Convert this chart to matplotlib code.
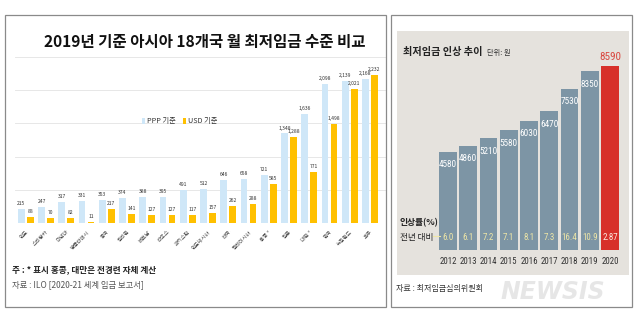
import matplotlib
matplotlib.use("Agg")
import matplotlib.pyplot as plt
from matplotlib.patches import Rectangle
from matplotlib import font_manager
import numpy as np

plt.rcParams['font.family'] = ['Noto Sans CJK KR', 'DejaVu Sans']
plt.rcParams['axes.unicode_minus'] = False

# ---- data: monthly minimum wage, 18 Asian countries (2019) ----
countries = ['인도', '스리랑카', '미얀마', '방글라데시', '중국', '필리핀', '베트남', '라오스',
             '파키스탄', '인도네시아', '태국', '말레이시아', '홍콩 *', '일본', '대만 *',
             '한국', '뉴질랜드', '호주']
ppp_values = [215, 247, 317, 331, 353, 374, 388, 395, 491, 512, 646, 658, 721,
              1348, 1636, 2098, 2139, 2168]
usd_values = [88, 70, 82, 11, 217, 141, 127, 127, 117, 157, 262, 288, 585,
              1288, 771, 1498, 2021, 2232]

# ---- data: Korean minimum wage (won/hour) ----
years = ['2012', '2013', '2014', '2015', '2016', '2017', '2018', '2019', '2020']
wages = [4580, 4860, 5210, 5580, 6030, 6470, 7530, 8350, 8590]
raise_rates = ['6.0', '6.1', '7.2', '7.1', '8.1', '7.3', '16.4', '10.9', '2.87']

W, H = 640, 323
fig = plt.figure(figsize=(W / 100, H / 100), dpi=100)
fig.patch.set_facecolor('white')

installed = {f.name for f in font_manager.fontManager.ttflist}
NARROW_NAME = next((n for n in ['Liberation Sans Narrow', 'DejaVu Sans Condensed', 'Roboto Condensed']
                    if n in installed), 'Liberation Sans')
NARROW = [NARROW_NAME, 'Noto Sans CJK KR']


def add_axes_px(x0, y0, x1, y1, **kw):
    return fig.add_axes([x0 / W, 1 - y1 / H, (x1 - x0) / W, (y1 - y0) / H], **kw)


def fig_text(px, py, s, **kw):
    return fig.text(px / W, 1 - py / H, s, **kw)


def fig_box(x0, y0, x1, y1, **kw):
    fig.patches.append(Rectangle((x0 / W, 1 - y1 / H), (x1 - x0) / W, (y1 - y0) / H,
                                 transform=fig.transFigure, **kw))


# panel frames
fig_box(5, 15, 386, 307, facecolor='none', edgecolor='#8a8a8a', lw=0.9, zorder=5)
fig_box(391, 15, 632, 307, facecolor='none', edgecolor='#8a8a8a', lw=0.9, zorder=5)

# ================= left panel =================
PPP_COLOR = '#cfe7f8'
USD_COLOR = '#ffc000'

fig_text(205, 42, '2019년 기준 아시아 18개국 월 최저임금 수준 비교', ha='center', va='center',
         fontsize=11.2, fontweight='bold', color='#111111')

axL = add_axes_px(15, 57, 386, 223)
x = np.arange(len(countries))
off, bw = 0.22, 0.34
axL.bar(x - off, ppp_values, width=bw, color=PPP_COLOR, zorder=2, label='PPP 기준')
axL.bar(x + off, usd_values, width=bw, color=USD_COLOR, zorder=2, label='USD 기준')
axL.set_xlim(-0.531, 17.79)
axL.set_ylim(0, 2500)
axL.set_yticks(np.arange(0, 2501, 500))
axL.yaxis.grid(True, color='#e7e7e7', lw=0.7, zorder=0)
axL.set_axisbelow(True)
axL.tick_params(axis='y', left=False, labelleft=False)
axL.tick_params(axis='x', bottom=False, pad=1)
axL.set_xticks(x)
axL.set_xticklabels(countries, rotation=45, ha='right', rotation_mode='anchor',
                    fontsize=3.8, color='#444444')
for s in axL.spines.values():
    s.set_visible(False)

for xi, pv, uv in zip(x, ppp_values, usd_values):
    axL.text(xi - off, pv + 45, f'{pv:,}', ha='center', va='bottom', fontsize=3.6,
             color='#333333', clip_on=False)
    axL.text(xi + off, uv + 45, f'{uv:,}', ha='center', va='bottom', fontsize=3.6,
             color='#333333', style='italic', clip_on=False)

axL.legend(loc='upper left', bbox_to_anchor=(135 / W, 1 - 111 / H),
           bbox_transform=fig.transFigure, ncol=2, frameon=False, fontsize=5.2,
           handlelength=0.5, handleheight=0.8, handletextpad=0.3, columnspacing=0.9,
           labelcolor='#333333')

fig_text(12, 270, '주 : * 표시 홍콩, 대만은 전경련 자체 계산', ha='left', va='center',
         fontsize=6.2, fontweight='bold', color='#222222')
fig_text(12, 285, '자료 : ILO [2020-21 세계 임금 보고서]', ha='left', va='center',
         fontsize=6.0, color='#555555')

# ================= right panel =================
BG = '#e5e2dd'
BAR = '#7d95a5'
RED = '#d7302a'

axR = add_axes_px(397, 31, 629, 275)
axR.set_facecolor(BG)
unit = 46.66  # data units per pixel (vertical)
xr = np.arange(len(years))
colors = [BAR] * (len(years) - 1) + [RED]
axR.bar(xr, wages, width=0.87, color=colors, zorder=2)
axR.set_xlim((397 - 448) / 20.25, (629 - 448) / 20.25)
axR.set_ylim(-25 * unit, 219 * unit)
axR.set_xticks([])
axR.set_yticks([])
for s in axR.spines.values():
    s.set_visible(False)

for xi, v, r in zip(xr, wages, raise_rates):
    last = xi == len(years) - 1
    if last:
        axR.text(xi, v + 9 * unit, f'{v}', ha='center', va='center', fontsize=8,
                 color='#d9473f', family=NARROW)
    else:
        axR.text(xi, v - 13 * unit, f'{v}', ha='center', va='center', fontsize=6.7,
                 color='white', family=NARROW)
    axR.text(xi, 13 * unit, r, ha='center', va='center', fontsize=6.5,
             color='#fde9df' if last else '#eee6a6', family=NARROW)
    axR.text(xi, -12 * unit, years[xi], ha='center', va='center', fontsize=6.4,
             color='#333333', family=NARROW)

axR.text((400 - 448) / 20.25, 27 * unit, '인상률(%)', ha='left', va='center',
         fontsize=6.3, fontweight='bold', color='#222222')
axR.text((400 - 448) / 20.25, 12.5 * unit, '전년 대비', ha='left', va='center',
         fontsize=6.2, color='#222222')
axR.plot([(433 - 448) / 20.25, (440 - 448) / 20.25], [14 * unit, 14 * unit],
         color='#eee6a6', lw=0.8, zorder=3)

fig_text(403, 52, '최저임금 인상 추이', ha='left', va='center', fontsize=7.3,
         fontweight='bold', color='#222222')
fig_text(487, 53, '단위: 원', ha='left', va='center', fontsize=5.2, color='#333333')

fig_text(396, 288, '자료 : 최저임금심의위원회', ha='left', va='center', fontsize=5.8,
         color='#333333')
fig_text(553, 292, 'NEWSIS', ha='center', va='center', fontsize=17, fontweight='bold',
         style='italic', color='#e4e4e4', alpha=0.9, family=['DejaVu Sans'], zorder=6)

fig.savefig('out.png', dpi=100, facecolor='white')
